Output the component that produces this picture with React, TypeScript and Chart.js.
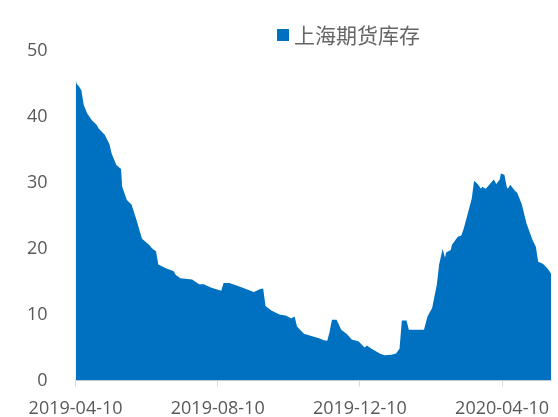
import React, { useEffect, useRef } from "react";
import { Chart, registerables } from "chart.js";

Chart.register(...registerables);

const seriesName = "上海期货库存";

const dates = [
  "2019-04-10", "2019-04-11", "2019-04-13", "2019-04-15", "2019-04-17", "2019-04-20", "2019-04-24", "2019-04-28", "2019-04-30",
  "2019-05-05", "2019-05-09", "2019-05-11", "2019-05-15", "2019-05-19", "2019-05-20", "2019-05-24", "2019-05-28",
  "2019-06-01", "2019-06-06", "2019-06-12", "2019-06-15", "2019-06-18", "2019-06-20", "2019-06-27",
  "2019-07-03", "2019-07-05", "2019-07-09", "2019-07-19", "2019-07-25", "2019-07-29",
  "2019-08-04", "2019-08-13", "2019-08-15", "2019-08-20", "2019-08-28",
  "2019-09-10", "2019-09-16", "2019-09-18", "2019-09-20", "2019-09-25",
  "2019-10-02", "2019-10-08", "2019-10-12", "2019-10-15", "2019-10-17", "2019-10-23", "2019-10-30",
  "2019-11-05", "2019-11-09", "2019-11-12", "2019-11-14", "2019-11-16", "2019-11-20", "2019-11-24", "2019-11-29",
  "2019-12-03", "2019-12-09", "2019-12-14", "2019-12-16", "2019-12-20", "2019-12-27", "2019-12-31",
  "2020-01-06", "2020-01-10", "2020-01-13", "2020-01-15", "2020-01-19", "2020-01-21",
  "2020-02-03", "2020-02-06", "2020-02-10", "2020-02-14", "2020-02-16", "2020-02-19", "2020-02-21", "2020-02-22", "2020-02-26", "2020-02-27",
  "2020-03-03", "2020-03-06", "2020-03-08", "2020-03-12", "2020-03-15", "2020-03-17", "2020-03-20", "2020-03-23", "2020-03-24", "2020-03-27",
  "2020-04-02", "2020-04-03", "2020-04-05", "2020-04-08", "2020-04-09", "2020-04-12", "2020-04-14", "2020-04-15", "2020-04-17", "2020-04-21", "2020-04-23", "2020-04-27",
  "2020-05-01", "2020-05-06", "2020-05-09", "2020-05-11", "2020-05-15", "2020-05-19", "2020-05-21", "2020-05-22",
];

const values = [
  45.6, 45.0, 44.6, 44.0, 41.8, 40.5, 39.5, 38.8, 38.2,
  37.3, 35.9, 34.4, 32.7, 32.1, 29.4, 27.4, 26.7,
  24.5, 21.5, 20.6, 20.0, 19.6, 17.6, 17.0,
  16.6, 16.0, 15.5, 15.3, 14.6, 14.6,
  14.1, 13.6, 14.8, 14.8, 14.3,
  13.4, 13.9, 13.9, 11.3, 10.6,
  10.0, 9.8, 9.4, 9.7, 8.2, 7.1, 6.7,
  6.4, 6.1, 6.0, 7.4, 9.2, 9.2, 7.7, 7.0,
  6.2, 5.9, 5.0, 5.3, 4.8, 4.1, 3.8,
  3.9, 4.1, 4.8, 9.1, 9.1, 7.7,
  7.7, 9.7, 11.0, 14.5, 17.6, 20.0, 18.6, 19.4, 19.8, 20.6,
  21.8, 22.0, 23.0, 25.6, 27.6, 30.3, 29.8, 29.1, 29.4, 29.1,
  30.3, 30.5, 29.8, 30.5, 31.4, 31.2, 29.4, 29.1, 29.7, 28.8, 28.5, 26.7, 23.8,
  21.4, 20.3, 18.0, 17.7, 17.0, 16.5, 16.2, 14.2,
];

const xTickLabels = ["2019-04-10", "2019-08-10", "2019-12-10", "2020-04-10"];
const xEndDate = "2020-05-22";
const yMax = 50;
const yStep = 10;

const DAY_MS = 86400000;
const toDay = (s: string) => {
  const [y, m, d] = s.split("-").map(Number);
  return Date.UTC(y, m - 1, d) / DAY_MS;
};
const baseDay = toDay(dates[0]);
const tickValues = xTickLabels.map((s) => toDay(s) - baseDay);

const legendPlugin = {
  id: "customLegend",
  afterDraw(chart: any) {
    const ctx = chart.ctx;
    const ds = chart.data.datasets[0];
    ctx.save();
    ctx.fillStyle = ds.backgroundColor;
    ctx.fillRect(277, 29, 12, 12);
    ctx.fillStyle = "#666666";
    ctx.font = '21px "Noto Sans CJK SC"';
    ctx.textBaseline = "middle";
    ctx.textAlign = "left";
    ctx.fillText(ds.label, 294, 35);
    ctx.restore();
  },
};

export default function App() {
  const ref = useRef<HTMLCanvasElement>(null);

  useEffect(() => {
    if (!ref.current) return;
    const points = dates.map((d, i) => ({ x: toDay(d) - baseDay, y: values[i] }));
    const chart = new Chart(ref.current, {
      type: "line",
      data: {
        datasets: [
          {
            label: seriesName,
            data: points,
            fill: "origin",
            backgroundColor: "#0070C0",
            borderColor: "#0070C0",
            borderWidth: 0,
            pointRadius: 0,
            tension: 0,
          },
        ],
      },
      options: {
        animation: false,
        responsive: true,
        maintainAspectRatio: false,
        layout: { padding: { left: 7, right: 7, top: 51, bottom: -15 } },
        plugins: {
          legend: { display: false },
          tooltip: { enabled: false },
        },
        scales: {
          x: {
            type: "linear",
            min: 0,
            max: toDay(xEndDate) - baseDay,
            afterBuildTicks: (axis: any) => {
              axis.ticks = tickValues.map((v) => ({ value: v }));
            },
            afterFit: (axis: any) => {
              axis.paddingRight = 0;
            },
            ticks: {
              autoSkip: false,
              maxRotation: 0,
              padding: 12,
              color: "#595959",
              font: { family: "'Open Sans'", size: 18 },
              callback: (v: any) => {
                const i = tickValues.indexOf(Number(v));
                return i >= 0 ? xTickLabels[i] : "";
              },
            },
            grid: {
              display: true,
              drawOnChartArea: false,
              tickLength: 6,
              color: "#d9d9d9",
            },
            border: { display: true, color: "#d9d9d9" },
          },
          y: {
            min: 0,
            max: yMax,
            ticks: {
              stepSize: yStep,
              padding: 20,
              color: "#595959",
              font: { family: "'Open Sans'", size: 18 },
            },
            grid: { display: false },
            border: { display: false },
          },
        },
      },
      plugins: [legendPlugin],
    });
    return () => chart.destroy();
  }, []);

  return (
    <div style={{ position: "fixed", left: 0, top: 0, width: 558, height: 417, background: "#fff" }}>
      <canvas ref={ref} />
    </div>
  );
}
